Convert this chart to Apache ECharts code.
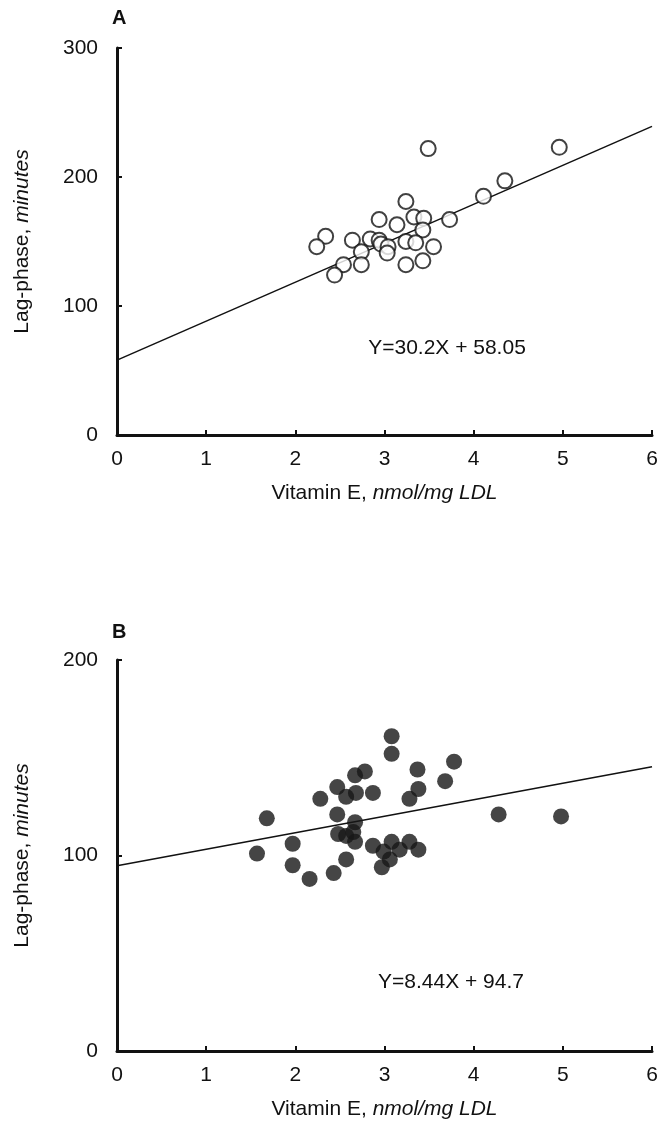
<!DOCTYPE html>
<html>
<head>
<meta charset="utf-8">
<script src="https://cdn.jsdelivr.net/npm/echarts@6/dist/echarts.min.js"></script>
<style>
  html, body { margin: 0; padding: 0; background: #fff; }
  #chart { width: 662px; height: 1127px; }
</style>
</head>
<body>
<div id="chart"></div>
<script>
// panel A: open circles
const vitEA = [3.49, 3.24, 2.94, 3.14, 3.33, 3.44, 3.43, 3.73, 2.34, 2.24, 2.64, 2.84, 2.94, 2.96,
  3.04, 3.24, 3.35, 3.55, 2.74, 3.03, 2.54, 2.74, 3.24, 3.43, 2.44, 4.96, 4.35, 4.11];
const lagA = [222, 181, 167, 163, 169, 168, 159, 167, 154, 146, 151, 152, 151, 148,
  146, 150, 149, 146, 142, 141, 132, 132, 132, 135, 124, 223, 197, 185];
const fitA = [[0, 58.05], [6, 239.25]];

// panel B: filled circles
const vitEB = [3.08, 3.08, 3.37, 3.68, 2.67, 2.78, 2.47, 2.57, 2.68, 2.28, 2.87, 3.38, 3.28, 1.68,
  2.47, 2.67, 2.48, 2.57, 2.65, 2.67, 1.97, 1.57, 2.87, 3.08, 3.28, 3.38, 2.99, 3.17, 3.06,
  2.97, 2.57, 1.97, 2.43, 2.16, 3.78, 4.28, 4.98];
const lagB = [161, 152, 144, 138, 141, 143, 135, 130, 132, 129, 132, 134, 129, 119,
  121, 117, 111, 110, 112, 107, 106, 101, 105, 107, 107, 103, 102, 103, 98,
  94, 98, 95, 91, 88, 148, 121, 120];
const fitB = [[0, 94.7], [6, 145.34]];

const eqA = 'Y=30.2X + 58.05';
const eqB = 'Y=8.44X + 94.7';

const font = '"Liberation Sans", Arial, sans-serif';
const ink = '#111';
const pairs = (xs, ys) => xs.map((x, i) => [x, ys[i]]);

const xAxisBase = (gridIndex) => ({
  gridIndex,
  type: 'value',
  min: 0, max: 6, interval: 1,
  axisLine: { lineStyle: { color: ink, width: 3 } },
  axisTick: { inside: true, length: 5, lineStyle: { color: ink, width: 2 } },
  axisLabel: { color: ink, fontSize: 21, fontFamily: font, margin: 14 },
  splitLine: { show: false },
  name: '{n|Vitamin E, }{i|nmol/mg LDL}',
  nameLocation: 'middle',
  nameGap: 48,
  nameTextStyle: {
    rich: {
      n: { fontSize: 21, fontFamily: font, color: ink },
      i: { fontSize: 21, fontFamily: font, fontStyle: 'italic', color: ink }
    }
  }
});

const yAxisBase = (gridIndex, max) => ({
  gridIndex,
  type: 'value',
  min: 0, max, interval: 100,
  axisLine: { lineStyle: { color: ink, width: 3 } },
  axisTick: { inside: true, length: 5, lineStyle: { color: ink, width: 2 } },
  axisLabel: { color: ink, fontSize: 21, fontFamily: font, margin: 19 },
  splitLine: { show: false },
  name: '{n|Lag-phase, }{i|minutes}',
  nameLocation: 'middle',
  nameRotate: 90,
  nameGap: 84,
  nameTextStyle: {
    rich: {
      n: { fontSize: 21, fontFamily: font, color: ink },
      i: { fontSize: 21, fontFamily: font, fontStyle: 'italic', color: ink }
    }
  }
});

const chart = echarts.init(document.getElementById('chart'), null, { renderer: 'canvas' });
chart.setOption({
  backgroundColor: '#fff',
  animation: false,
  grid: [
    { left: 117, top: 48, width: 535, height: 387 },
    { left: 117, top: 660, width: 535, height: 391 }
  ],
  xAxis: [xAxisBase(0), xAxisBase(1)],
  yAxis: [yAxisBase(0, 300), yAxisBase(1, 200)],
  series: [
    {
      type: 'scatter', xAxisIndex: 0, yAxisIndex: 0,
      data: pairs(vitEA, lagA),
      symbol: 'circle', symbolSize: 15,
      itemStyle: { color: '#fff', borderColor: ink, borderWidth: 2 },
      z: 3
    },
    {
      type: 'line', xAxisIndex: 0, yAxisIndex: 0,
      data: fitA, symbol: 'none',
      lineStyle: { color: ink, width: 1.5 },
      z: 2
    },
    {
      type: 'scatter', xAxisIndex: 1, yAxisIndex: 1,
      data: pairs(vitEB, lagB),
      symbol: 'circle', symbolSize: 16,
      itemStyle: { color: '#161616' },
      z: 3
    },
    {
      type: 'line', xAxisIndex: 1, yAxisIndex: 1,
      data: fitB, symbol: 'none',
      lineStyle: { color: ink, width: 1.5 },
      z: 2
    }
  ],
  graphic: [
    { type: 'text', left: 112, top: 8, style: { text: 'A', font: 'bold 20px ' + font, fill: ink } },
    { type: 'text', left: 112, top: 622, style: { text: 'B', font: 'bold 20px ' + font, fill: ink } },
    { type: 'text', x: 447, y: 348, style: { text: eqA, font: '21px ' + font, fill: ink, align: 'center', verticalAlign: 'middle' } },
    { type: 'text', x: 451, y: 982, style: { text: eqB, font: '21px ' + font, fill: ink, align: 'center', verticalAlign: 'middle' } }
  ]
});
</script>
</body>
</html>
